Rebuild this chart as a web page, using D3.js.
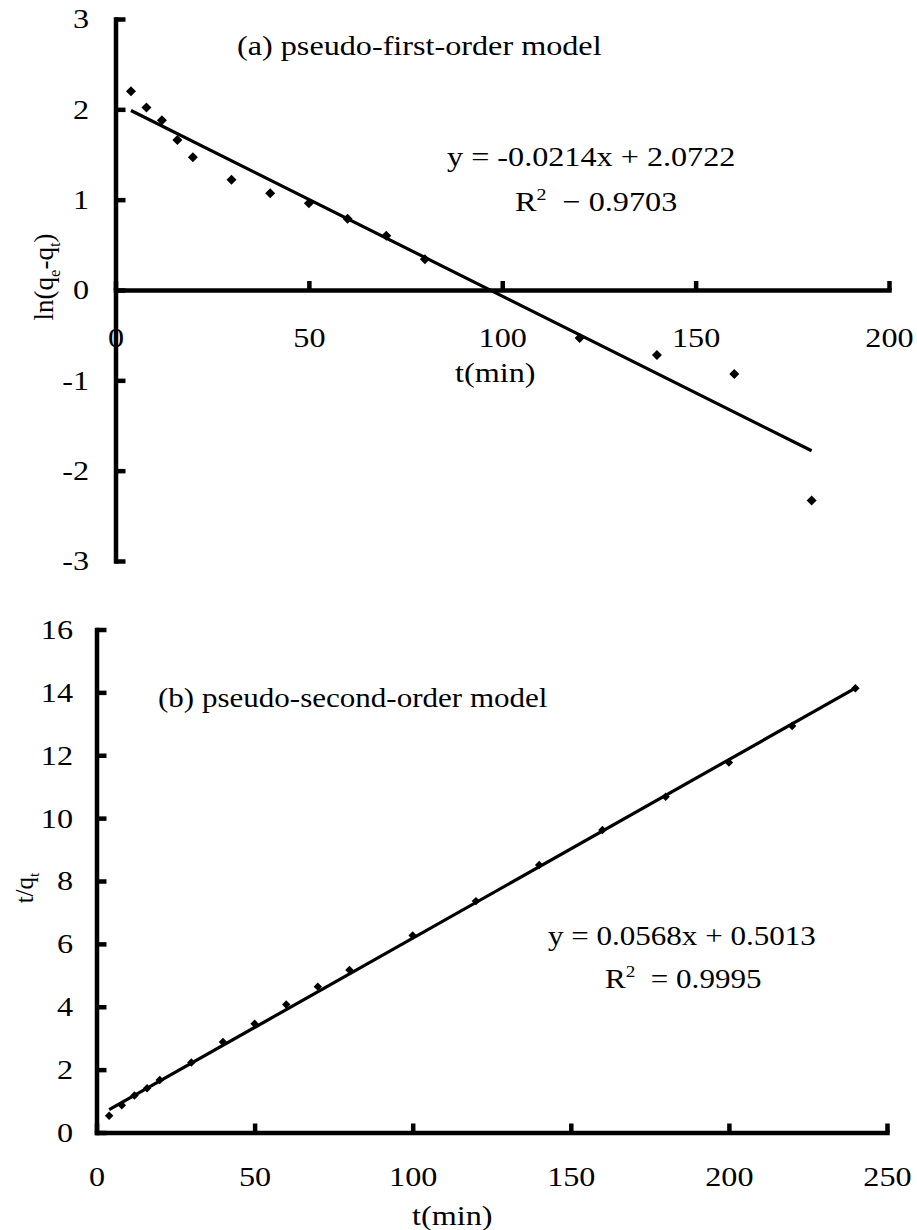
<!DOCTYPE html>
<html>
<head>
<meta charset="utf-8">
<script src="https://cdn.jsdelivr.net/npm/d3@7"></script>
<style>
  body { margin: 0; background: #fff; }
  svg text { font-family: "Liberation Serif", "Times New Roman", serif; fill: #000; white-space: pre; }
</style>
</head>
<body>
<svg id="chart" width="917" height="1230"></svg>
<script>
// (a) pseudo-first-order: ln(qe-qt) against t
const timeA = [4, 8, 12, 16, 20, 30, 40, 50, 60, 70, 80, 120, 140, 160, 180];
const lnA = [2.20, 2.02, 1.88, 1.66, 1.47, 1.22, 1.07, 0.96, 0.79, 0.60, 0.34, -0.53, -0.72, -0.93, -2.33];
const fitTimeA = [4, 180];
const fitLnA = [1.987, -1.780];
const xTicksA = [0, 50, 100, 150, 200];
const yTicksA = [-3, -2, -1, 0, 1, 2, 3];

// (b) pseudo-second-order: t/qt against t
const timeB = [4, 8, 12, 16, 20, 30, 40, 50, 60, 70, 80, 100, 120, 140, 160, 180, 200, 220, 240];
const tqB = [0.53, 0.87, 1.18, 1.41, 1.67, 2.23, 2.88, 3.46, 4.07, 4.64, 5.17, 6.27, 7.36, 8.51, 9.62, 10.68, 11.77, 12.93, 14.13];
const fitTimeB = [4, 240];
const fitTqB = [0.728, 14.133];
const xTicksB = [0, 50, 100, 150, 200, 250];
const yTicksB = [0, 2, 4, 6, 8, 10, 12, 14, 16];

const svg = d3.select('#chart');
const stretch = 1.15; // the source glyphs are wider than they are tall

// text with optional sub/superscript parts: [[str, 'sub'|'sup'|''], ...]
function label(x, y, parts, size, opts = {}) {
    const t = svg.append('text')
        .attr('font-size', size)
        .attr('text-anchor', opts.anchor || 'start')
        .attr('transform', opts.rotate
            ? `translate(${x},${y}) rotate(-90)`
            : `translate(${x},${y}) scale(${stretch},1)`);
    let shift = 0;
    parts.forEach(([str, kind]) => {
        const target = kind === 'sub' ? size * 0.25 : kind === 'sup' ? -size * 0.4 : 0;
        t.append('tspan')
            .attr('dy', target - shift)
            .attr('font-size', kind ? size * 0.62 : size)
            .text(str);
        shift = target;
    });
    return t;
}

function panel(x, y, xTicks, yTicks, xPad, yPad, times, values, fitT, fitV, markSize) {
    const g = svg.append('g');
    const fmt = d => String(d);

    const xAxis = d3.axisBottom(x).tickValues(xTicks).tickFormat(fmt)
        .tickSize(-9).tickSizeOuter(0).tickPadding(xPad);
    const yAxis = d3.axisLeft(y).tickValues(yTicks).tickFormat(fmt)
        .tickSize(-10).tickSizeOuter(0).tickPadding(yPad);

    const gx = g.append('g').attr('transform', `translate(0,${y(0)})`).call(xAxis);
    const gy = g.append('g').attr('transform', `translate(${x(0)},0)`).call(yAxis);

    g.selectAll('.domain').attr('stroke', '#000').attr('stroke-width', 4.5).attr('stroke-linecap', 'square');
    g.selectAll('.tick line').attr('stroke', '#000').attr('stroke-width', 4.5);
    g.selectAll('.tick text').attr('font-size', 28).attr('fill', '#000');

    gx.selectAll('.tick text').attr('transform', `scale(${stretch},1)`);
    gy.selectAll('.tick text')
        .attr('x', -yPad / stretch)
        .attr('transform', `scale(${stretch},1)`);

    const line = d3.line().x(d => x(d[0])).y(d => y(d[1]));
    g.append('path')
        .datum(fitT.map((t, i) => [t, fitV[i]]))
        .attr('fill', 'none')
        .attr('stroke', '#000')
        .attr('stroke-width', 3.2)
        .attr('d', line);

    const mark = d3.symbol().type(d3.symbolSquare).size(markSize);
    g.selectAll('.pt')
        .data(times.map((t, i) => [t, values[i]]))
        .join('path')
        .attr('class', 'pt')
        .attr('fill', '#000')
        .attr('transform', d => `translate(${x(d[0])},${y(d[1])}) rotate(45)`)
        .attr('d', mark);
}

// ---- (a)
const xA = d3.scaleLinear().domain([0, 200]).range([115.5, 889]);
const yA = d3.scaleLinear().domain([-3, 3]).range([561, 19]);
panel(xA, yA, xTicksA, yTicksA, 37, 26.5, timeA, lnA, fitTimeA, fitLnA, 50);

label(237, 55, [['(a) pseudo-first-order model', '']], 28);
label(447, 166, [['y = -0.0214x + 2.0722', '']], 28);
label(515, 211, [['R', ''], ['2', 'sup'], ['  \u2212 0.9703', '']], 28);
label(455, 382, [['t(min)', '']], 28);
label(53, 277, [['ln(q', ''], ['e', 'sub'], ['-q', ''], ['t', 'sub'], [')', '']], 27, { anchor: 'middle', rotate: true });

// ---- (b)
const xB = d3.scaleLinear().domain([0, 250]).range([96.5, 887]);
const yB = d3.scaleLinear().domain([0, 16]).range([1132.5, 629.5]);
panel(xB, yB, xTicksB, yTicksB, 33.5, 23.5, timeB, tqB, fitTimeB, fitTqB, 36);

label(158, 707, [['(b) pseudo-second-order model', '']], 27);
label(548, 945, [['y = 0.0568x + 0.5013', '']], 27);
label(605, 988, [['R', ''], ['2', 'sup'], ['  = 0.9995', '']], 27);
label(412, 1225, [['t(min)', '']], 28);
label(33, 888, [['t/q', ''], ['t', 'sub']], 25, { anchor: 'middle', rotate: true });
</script>
</body>
</html>
